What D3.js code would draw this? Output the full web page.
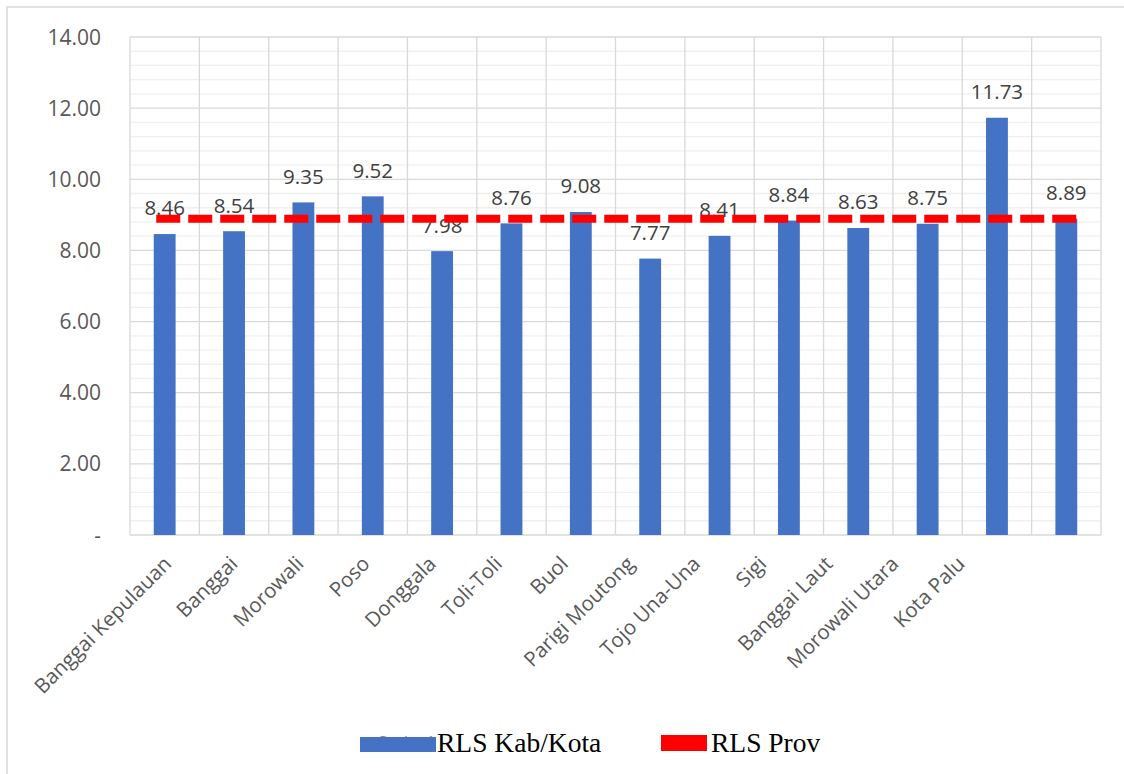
<!DOCTYPE html>
<html>
<head>
<meta charset="utf-8">
<script src="https://cdn.jsdelivr.net/npm/d3@7"></script>
<style>
  html, body { margin: 0; padding: 0; background: #fff; }
  svg { display: block; }
</style>
</head>
<body>
<svg id="chart" width="1124" height="774"></svg>
<script>
// ---- data ----
const categories = ["Banggai Kepulauan", "Banggai", "Morowali", "Poso", "Donggala", "Toli-Toli", "Buol",
  "Parigi Moutong", "Tojo Una-Una", "Sigi", "Banggai Laut", "Morowali Utara", "Kota Palu", ""];
const rlsKabKota = [8.46, 8.54, 9.35, 9.52, 7.98, 8.76, 9.08, 7.77, 8.41, 8.84, 8.63, 8.75, 11.73, 8.89];
const rlsProv = 8.89;
const yTicks = [0, 2, 4, 6, 8, 10, 12, 14];
const yTickLabels = ["-", "2.00", "4.00", "6.00", "8.00", "10.00", "12.00", "14.00"];
const legendLabels = ["RLS Kab/Kota", "RLS Prov"];

// ---- layout ----
const svg = d3.select("#chart");
const plot = { left: 130, right: 1101, top: 37, bottom: 535 };
const sansFont = "'Open Sans', 'Noto Sans', sans-serif";
const serifFont = "'Liberation Serif', 'Times New Roman', serif";

// outer chart border
svg.append("rect").attr("x", 7).attr("y", 7).attr("width", 1130).attr("height", 800)
  .attr("fill", "none").attr("stroke", "#d9d9d9").attr("stroke-width", 1.5);

const x = d3.scaleBand().domain(d3.range(categories.length))
  .range([plot.left, plot.right]).padding(0);
const y = d3.scaleLinear().domain([0, 14]).range([plot.bottom, plot.top]);
const barW = x.bandwidth() * 0.315;
const cx = i => x(i) + x.bandwidth() / 2;

// minor gridlines
const minor = d3.range(0, 14.001, 0.4).filter(v => Math.abs(v / 2 - Math.round(v / 2)) > 1e-6);
svg.append("g").selectAll("line").data(minor).join("line")
  .attr("x1", plot.left).attr("x2", plot.right)
  .attr("y1", d => y(d)).attr("y2", d => y(d))
  .attr("stroke", "#f0f0f0").attr("stroke-width", 1.3);

// major gridlines
svg.append("g").selectAll("line").data(yTicks).join("line")
  .attr("x1", plot.left).attr("x2", plot.right)
  .attr("y1", d => y(d)).attr("y2", d => y(d))
  .attr("stroke", "#d9d9d9").attr("stroke-width", 1.3);

// vertical gridlines at category boundaries
const vLines = d3.range(categories.length + 1);
svg.append("g").selectAll("line").data(vLines).join("line")
  .attr("x1", d => d < categories.length ? x(d) : plot.right)
  .attr("x2", d => d < categories.length ? x(d) : plot.right)
  .attr("y1", plot.top).attr("y2", plot.bottom)
  .attr("stroke", "#d9d9d9").attr("stroke-width", 1.3);

// y tick labels
svg.append("g").selectAll("text").data(yTicks).join("text")
  .attr("x", 101).attr("y", d => y(d))
  .attr("dy", "0.36em")
  .attr("text-anchor", "end")
  .attr("font-family", sansFont).attr("font-size", 21)
  .attr("fill", "#595959")
  .text((d, i) => yTickLabels[i]);

// bars
svg.append("g").selectAll("rect").data(rlsKabKota).join("rect")
  .attr("x", (d, i) => cx(i) - barW / 2)
  .attr("width", barW)
  .attr("y", d => y(d))
  .attr("height", d => y(0) - y(d))
  .attr("fill", "#4472C4");

// data labels
svg.append("g").selectAll("text").data(rlsKabKota).join("text")
  .attr("x", (d, i) => cx(i))
  .attr("y", d => y(d) - 26)
  .attr("dy", "0.36em")
  .attr("text-anchor", "middle")
  .attr("font-family", sansFont).attr("font-size", 20.5)
  .attr("fill", "#404040")
  .text(d => d.toFixed(2));

// province line (dashed)
const n = categories.length;
svg.append("line")
  .attr("x1", cx(0) - barW / 2 + 2.5)
  .attr("x2", cx(n - 1) + barW / 2)
  .attr("y1", y(rlsProv)).attr("y2", y(rlsProv))
  .attr("stroke", "#FF0000").attr("stroke-width", 8)
  .attr("stroke-dasharray", "24,8");

// x axis labels (rotated)
const labelIdx = d3.range(n - 1);
const lx = d3.scalePoint().domain(labelIdx).range([cx(0) + 3, cx(n - 2) - 36]);
svg.append("g").selectAll("text").data(labelIdx).join("text")
  .attr("transform", i => `translate(${lx(i)},${560}) rotate(-45)`)
  .attr("text-anchor", "end")
  .attr("dy", "0.35em")
  .attr("font-family", sansFont).attr("font-size", 20.5)
  .attr("fill", "#595959")
  .text(i => categories[i]);

// legend
svg.append("text").attr("x", 378).attr("y", 748)
  .attr("font-family", sansFont).attr("font-size", 17).attr("fill", "#8c8c8c")
  .text("Series1");
svg.append("rect").attr("x", 360).attr("y", 737).attr("width", 76).attr("height", 15)
  .attr("fill", "#4472C4");
svg.append("text").attr("x", 437).attr("y", 752)
  .attr("font-family", serifFont).attr("font-size", 27.5).attr("fill", "#000")
  .text(legendLabels[0]);
svg.append("rect").attr("x", 661).attr("y", 735).attr("width", 46).attr("height", 16)
  .attr("fill", "#FF0000");
svg.append("text").attr("x", 711).attr("y", 752)
  .attr("font-family", serifFont).attr("font-size", 27.5).attr("fill", "#000")
  .text(legendLabels[1]);
</script>
</body>
</html>
